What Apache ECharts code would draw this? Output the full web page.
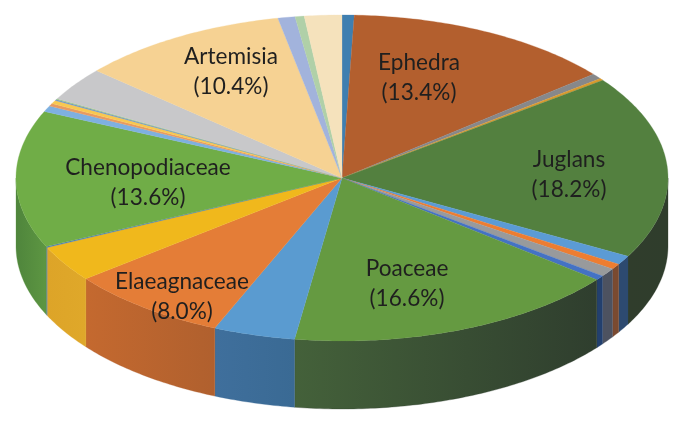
<!DOCTYPE html>
<html>
<head>
<meta charset="utf-8">
<style>html,body{margin:0;padding:0;background:#fff}#c{width:685px;height:425px}</style>
<script src="https://cdn.jsdelivr.net/npm/echarts@6/dist/echarts.min.js"></script>
</head>
<body>
<div id="c"></div>
<script>
// Slice data, clockwise from 12 o'clock
const names = ['', 'Ephedra', '', '', 'Juglans', '', '', '', '', 'Poaceae', '', 'Elaeagnaceae', '', '', 'Chenopodiaceae', '', '', '', '', '', '', 'Artemisia', '', '', ''];
const shares = [0.6, 13.4, 0.55, 0.2, 18.2, 0.9, 0.55, 0.85, 0.45, 16.6, 4.05, 8.0, 3.6, 0.1, 13.6, 0.6, 0.25, 0.35, 0.1, 0.1, 3.35, 10.4, 0.85, 0.45, 1.85];
const topColors = ['#3f7fb0', '#b35f2e', '#87888a', '#d99a2e', '#53803f', '#5b9bd5', '#ed7d31', '#989a9c', '#4472c4', '#659a41', '#5a9bd0', '#e47d37', '#f0b81c', '#4f7db8', '#70ad47', '#7eb0e0', '#e89a60', '#f8c850', '#6f93c8', '#9cc58a', '#c8c8ca', '#f6d293', '#a2b3dc', '#b0d0a8', '#f5e2bc'];
const wallStart = ['#2f5d85', '#844622', '#666', '#a57524', '#2f3d2c', '#2d4a70', '#7a4a30', '#4d5260', '#23406e', '#2f3e2e', '#3a6a94', '#b0602e', '#dfa82a', '#5a7ba5', '#5d9642', '#5e86ab', '#b27a4e', '#c29c40', '#55709a', '#78986a', '#9a9a9c', '#bfa272', '#7c89a9', '#889f81', '#bcae90'];
const wallEnd = ['#2f5d85', '#844622', '#666', '#a57524', '#303d2c', '#2d4a70', '#7a4a30', '#4d5260', '#23406e', '#44613a', '#3f6f9c', '#c4692f', '#dda428', '#5a7ba5', '#4f853c', '#5e86ab', '#b27a4e', '#c29c40', '#55709a', '#78986a', '#9a9a9c', '#bfa272', '#7c89a9', '#889f81', '#bcae90'];
const labelAnchors = { Ephedra: [419, 77.5], Juglans: [569, 175], Poaceae: [407, 284], Elaeagnaceae: [182, 297], Chenopodiaceae: [148, 183], Artemisia: [231, 72] };

const CX = 342, CY = 178, RX = 326, RY = 163, DEPTH = 68;
const total = shares.reduce((a, b) => a + b, 0);
let acc = 0;
const rows = shares.map((v, i) => { const r = [acc, acc + v, i]; acc += v; return r; });
const deg = v => v / total * 360;
const pt = (t, dy) => { const a = t * Math.PI / 180; return [CX + RX * Math.sin(a), CY - RY * Math.cos(a) + (dy || 0)]; };
const arc = (t0, t1, dy) => {
  const n = Math.max(2, Math.ceil((t1 - t0) / 0.75)), out = [];
  for (let i = 0; i <= n; i++) out.push(pt(t0 + (t1 - t0) * i / n, dy));
  return out;
};

function renderSlice(params, api) {
  const t0 = deg(api.value(0)), t1 = deg(api.value(1)), i = api.value(2);
  const children = [];
  const a = Math.max(t0, 90), b = Math.min(t1, 270);
  if (b > a) {
    const p0 = pt(a), p1 = pt(b);
    const x0 = Math.min(p0[0], p1[0]), x1 = Math.max(p0[0], p1[0]);
    const fill = new echarts.graphic.LinearGradient(x0, 0, x1, 0, [
      { offset: 0, color: wallEnd[i] }, { offset: 1, color: wallStart[i] }
    ], true);
    children.push({
      type: 'polygon',
      shape: { points: arc(a, b, 0).concat(arc(a, b, DEPTH).reverse()) },
      style: { fill: fill, stroke: wallStart[i], lineWidth: 0.3 }
    });
  }
  children.push({
    type: 'polygon',
    shape: { points: [[CX, CY]].concat(arc(t0, t1, 0)) },
    style: { fill: topColors[i], stroke: topColors[i], lineWidth: 0.3 }
  });
  return { type: 'group', children: children };
}

const labelRows = names.map((n, i) => [i]).filter(r => names[r[0]]);
function renderLabel(params, api) {
  const i = api.value(0), pos = labelAnchors[names[i]];
  return {
    type: 'text',
    style: {
      text: names[i] + '\n(' + shares[i].toFixed(1) + '%)',
      x: pos[0], y: pos[1], align: 'center', verticalAlign: 'middle',
      fill: '#1f1f1f', font: '22.6px Lato', lineHeight: 30
    }
  };
}

const chart = echarts.init(document.getElementById('c'));
chart.setOption({
  animation: false,
  backgroundColor: '#fff',
  series: [
    { type: 'custom', coordinateSystem: 'none', data: rows, renderItem: renderSlice, silent: true, z: 2 },
    { type: 'custom', coordinateSystem: 'none', data: labelRows, renderItem: renderLabel, silent: true, z: 3 }
  ]
});
</script>
</body>
</html>
